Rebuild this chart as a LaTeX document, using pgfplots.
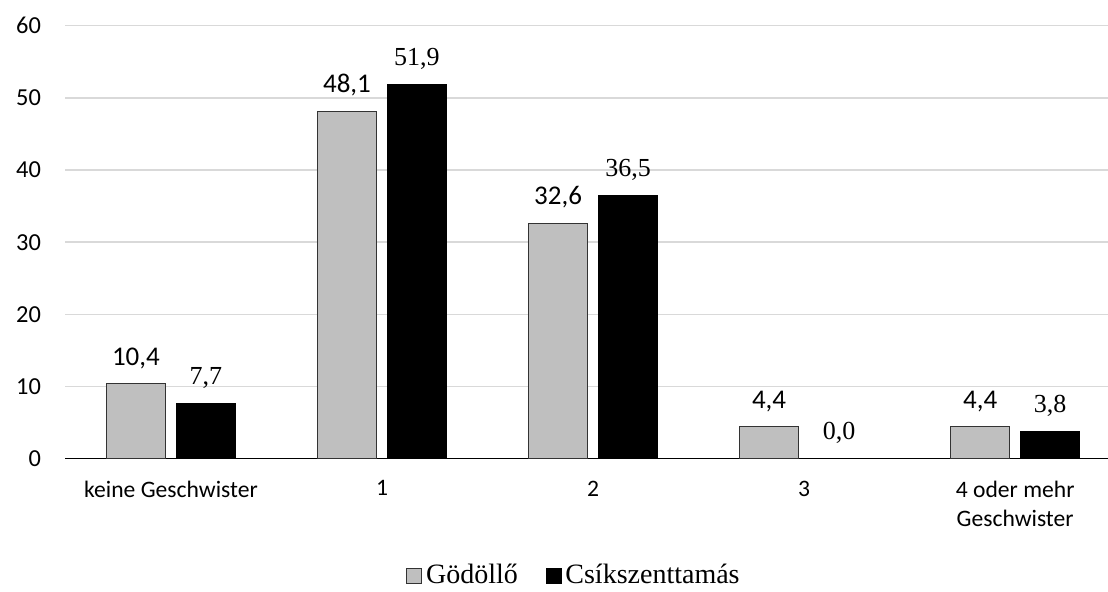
\documentclass[border=0pt]{standalone}
\usepackage{pgfplots}
\pgfplotsset{compat=1.18}
\usepackage{fontspec}
\setmainfont{Liberation Serif}
\newfontfamily\calibri{Carlito}
\definecolor{barGray}{RGB}{191,191,191}
\definecolor{gridGray}{RGB}{217,217,217}
\begin{document}
\begin{tikzpicture}
\useasboundingbox (0,0) rectangle (554pt,296pt);
\begin{axis}[
  at={(32.5pt,66.65pt)}, anchor=south west,
  scale only axis, width=521.5pt, height=216.5pt,
  ymin=0, ymax=60, ytick={0,10,...,60},
  xmin=-0.502, xmax=4.44,
  xtick={0,1,2,3,4},
  xticklabels={keine Geschwister,1,2,3,{4 oder mehr\\Geschwister}},
  axis x line*=bottom, axis y line*=left,
  x axis line style={-, line width=0.75pt, black},
  y axis line style={draw=none},
  major tick length=0pt, tick style={draw=none},
  ymajorgrids, grid style={line width=0.75pt, gridGray},
  /pgf/number format/assume math mode=true,
  yticklabel style={font=\calibri\fontsize{12.2}{15}\selectfont, xshift=-8.5pt},
  xticklabel style={font=\calibri\fontsize{11.8}{14.5}\selectfont, align=center, yshift=-7.5pt},
  ybar, bar width=29.5pt,
  clip=false,
  legend style={at={(0.489,-0.270)}, anchor=center, draw=none, fill=none,
    legend columns=-1, font=\fontsize{14}{16}\selectfont,
    /tikz/every even column/.append style={column sep=12pt},
    inner sep=0pt},
  legend image code/.code={\draw[#1, line width=0.4pt] (0pt,-3.7pt) rectangle (7.4pt,3.7pt);},
]
\addplot[draw=black!80, line width=0.5pt, fill=barGray, bar shift=-17.5pt,
  nodes near coords={\pgfmathprintnumber[fixed,fixed zerofill,precision=1,use comma]{\pgfplotspointmeta}},
  every node near coord/.append style={font=\calibri\fontsize{13.5}{15}\selectfont, black, anchor=south, yshift=4pt}]
  coordinates {(0,10.4) (1,48.1) (2,32.6) (3,4.4) (4,4.4)};
\addplot[draw=black, fill=black, bar shift=17.5pt,
  nodes near coords={\pgfmathprintnumber[fixed,fixed zerofill,precision=1,use comma]{\pgfplotspointmeta}},
  every node near coord/.append style={font=\fontsize{13}{15}\selectfont, black, anchor=south, yshift=4pt}]
  coordinates {(0,7.7) (1,51.9) (2,36.5) (3,0.0) (4,3.8)};
\legend{Gödöllő,Csíkszenttamás}
\end{axis}
\end{tikzpicture}
\end{document}
